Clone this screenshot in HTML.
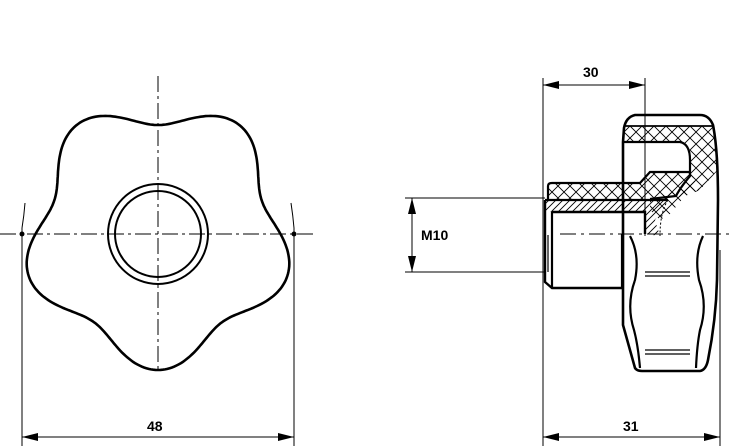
<!DOCTYPE html>
<html><head><meta charset="utf-8"><style>
html,body{margin:0;padding:0;background:#fff;width:731px;height:446px;overflow:hidden}
text{font-family:"Liberation Sans",Arial,sans-serif;font-weight:bold;font-size:14px;fill:#000}
</style></head><body>
<svg width="731" height="446" viewBox="0 0 731 446" xmlns="http://www.w3.org/2000/svg">
<defs>
<pattern id="xh" width="12" height="12" patternUnits="userSpaceOnUse">
<path d="M0 0L12 12M12 0L0 12" stroke="#000" stroke-width="0.9"/>
</pattern>
<pattern id="dh" width="7" height="7" patternUnits="userSpaceOnUse">
<path d="M0 7L7 0M-1 1L1 -1M6 8L8 6" stroke="#000" stroke-width="0.9"/>
</pattern>
<marker id="ar" markerWidth="16" markerHeight="8" refX="16" refY="4" orient="auto" markerUnits="userSpaceOnUse">
<path d="M0 0L16 4L0 8Z" fill="#000"/>
</marker>
<marker id="al" markerWidth="16" markerHeight="8" refX="0" refY="4" orient="auto" markerUnits="userSpaceOnUse">
<path d="M16 0L0 4L16 8Z" fill="#000"/>
</marker>
</defs>

<path id="star" fill="none" stroke="#000" stroke-width="2.6"/>
<circle cx="158" cy="234" r="50" fill="none" stroke="#000" stroke-width="2"/>
<circle cx="158" cy="234" r="43" fill="none" stroke="#000" stroke-width="2"/>
<line x1="158" y1="76" x2="158" y2="372" stroke="#000" stroke-width="1" stroke-dasharray="16,4,3,4"/>
<line x1="0" y1="234" x2="316" y2="234" stroke="#000" stroke-width="1" stroke-dasharray="16,4,3,4"/>
<line x1="22" y1="228" x2="22" y2="446" stroke="#000" stroke-width="1"/>
<line x1="294" y1="228" x2="294" y2="446" stroke="#000" stroke-width="1"/>
<path d="M25 203Q24 216 22 228M291 203Q293 216 294 228" fill="none" stroke="#000" stroke-width="1"/>
<circle cx="22" cy="234" r="2.5"/><circle cx="294" cy="234" r="2.5"/>
<line x1="22" y1="437" x2="294" y2="437" stroke="#000" stroke-width="1" marker-start="url(#al)" marker-end="url(#ar)"/>
<text x="147" y="431">48</text>

<line x1="543" y1="78" x2="543" y2="446" stroke="#000" stroke-width="1"/>
<line x1="645" y1="78" x2="645" y2="236" stroke="#000" stroke-width="1"/>
<line x1="543" y1="85" x2="645" y2="85" stroke="#000" stroke-width="1" marker-start="url(#al)" marker-end="url(#ar)"/>
<text x="583" y="77">30</text>
<line x1="405" y1="198" x2="545" y2="198" stroke="#000" stroke-width="1"/>
<line x1="405" y1="272" x2="545" y2="272" stroke="#000" stroke-width="1"/>
<line x1="412" y1="198" x2="412" y2="272" stroke="#000" stroke-width="1" marker-start="url(#al)" marker-end="url(#ar)"/>
<text x="421" y="240">M10</text>
<line x1="720" y1="250" x2="720" y2="446" stroke="#000" stroke-width="1"/>
<line x1="543" y1="437" x2="720" y2="437" stroke="#000" stroke-width="1" marker-start="url(#al)" marker-end="url(#ar)"/>
<text x="623" y="431">31</text>

<path d="M624 126L713 126L718 170L700 190L685 196L670 214L660 220L650 210L650 200L660 196L680 190L690 175L690 150Q688 142 680 142L624 142Z" fill="url(#xh)" stroke="none"/>
<path d="M623 142L623 325L635 368Q637 371 642 371L700 371Q706 370 708 360Q716 320 717 280L718 200Q718 150 713 125Q709 115 700 115L635 115Q626 117 624 128Z" fill="none" stroke="#000" stroke-width="2.6"/>
<line x1="625" y1="126" x2="713" y2="126" stroke="#000" stroke-width="1.8"/>
<path d="M623 142L680 142Q690 144 690 160L690 176Q680 188 676 196L650 199" fill="none" stroke="#000" stroke-width="2.2"/>
<path d="M548 186Q548 183 552 183L640 183L650 172L690 172L700 190L685 196L665 200L548 200Z" fill="url(#xh)"/>
<path d="M548 200L548 186Q548 183 552 183L640 183L650 172L690 172" fill="none" stroke="#000" stroke-width="2.2"/>
<path d="M545 200L668 200L655 220L660 236L645 234L645 212L545 212Z" fill="url(#dh)"/>
<line x1="545" y1="200" x2="668" y2="200" stroke="#000" stroke-width="2.2"/>
<path d="M668 200Q660 212 660 236" fill="none" stroke="#000" stroke-width="1" stroke-dasharray="2,2"/>
<path d="M545 200L545 282L552 288L622 288" fill="none" stroke="#000" stroke-width="2.4"/>
<path d="M552 212L645 212L645 234" fill="none" stroke="#000" stroke-width="2.4"/>
<line x1="552" y1="212" x2="552" y2="288" stroke="#000" stroke-width="2.2"/>
<line x1="548" y1="235" x2="548" y2="272" stroke="#000" stroke-width="1.2"/>
<line x1="622" y1="234" x2="622" y2="288" stroke="#000" stroke-width="2.2"/>
<line x1="560" y1="234" x2="731" y2="234" stroke="#000" stroke-width="1" stroke-dasharray="16,5,3,5"/>
<path d="M630 236Q640 255 635 280Q626 305 634 330Q638 345 640 368" fill="none" stroke="#000" stroke-width="2.2"/>
<path d="M703 236Q694 255 699 280Q708 305 700 330Q697 345 696 368" fill="none" stroke="#000" stroke-width="2.2"/>
<path d="M645 272H690M645 276H690M645 350H690M645 354H690" stroke="#000" stroke-width="1.3"/>
</svg>
<script>
var cx=158,cy=234,a=122.5,b=13.5,d="";
for(var i=0;i<=360;i++){var t=i*Math.PI/180;var r=a-b*Math.cos(5*t);
var x=cx+r*Math.sin(t),y=cy-r*Math.cos(t);d+=(i?"L":"M")+x.toFixed(1)+" "+y.toFixed(1);}
document.getElementById("star").setAttribute("d",d+"Z");
</script>
</body></html>
